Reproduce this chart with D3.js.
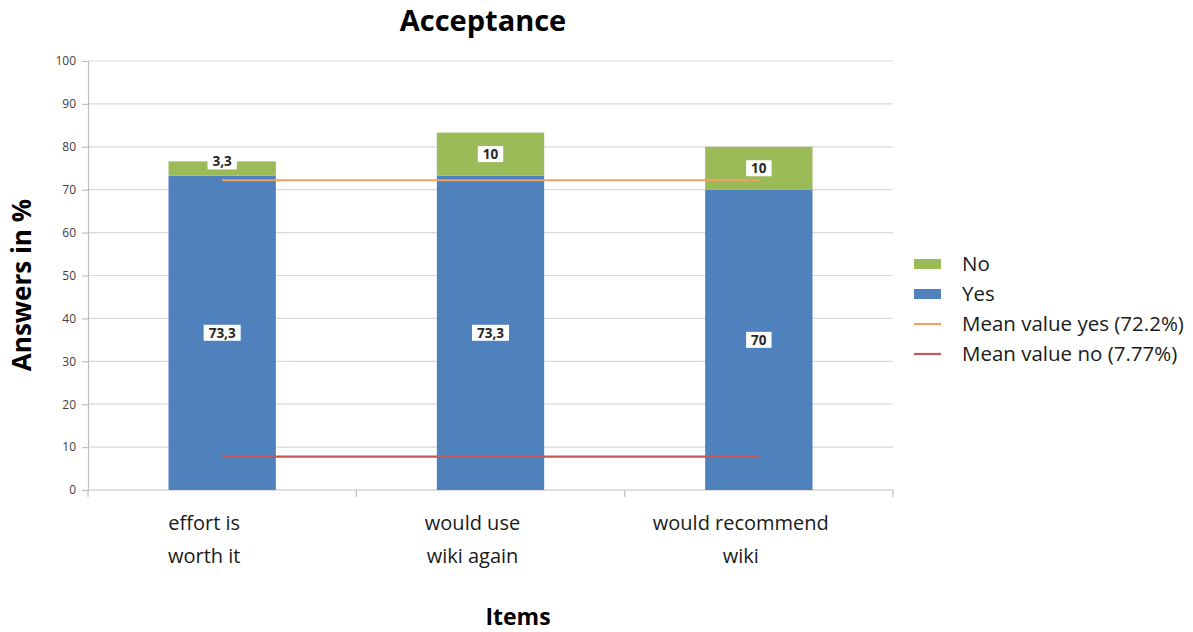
<!DOCTYPE html>
<html>
<head>
<meta charset="utf-8">
<script src="https://cdn.jsdelivr.net/npm/d3@7"></script>
<style>
  html, body { margin: 0; padding: 0; background: #fff; }
  svg { display: block; font-family: "Open Sans", "Liberation Sans", sans-serif; }
</style>
</head>
<body>
<svg id="chart" width="1193" height="632"></svg>
<script>
// ---- data ----
const categories = [["effort is", "worth it"], ["would use", "wiki again"], ["would recommend", "wiki"]];
const yesValues = [73.3, 73.3, 70];
const noValues = [3.3, 10, 10];
const meanYes = 72.2;
const meanNo = 7.77;
const yTicks = [0, 10, 20, 30, 40, 50, 60, 70, 80, 90, 100];
const legendItems = ["No", "Yes", "Mean value yes (72.2%)", "Mean value no (7.77%)"];
const titleText = "Acceptance";
const yTitle = "Answers in %";
const xTitle = "Items";

// ---- setup ----
const colors = { yes: "#4f81bd", no: "#9bbb59", meanYes: "#f2a065", meanNo: "#c0595a" };
const svg = d3.select("#chart");
const plot = { left: 88, right: 893, top: 61, bottom: 490 };
const locale = d3.formatLocale({ decimal: ",", thousands: ".", grouping: [3], currency: ["", "€"] });
const fmt = v => locale.format(",.1~f")(v);

const idx = categories.map((d, i) => i);
const x = d3.scaleBand().domain(idx).range([plot.left, plot.right]).paddingInner(0.6).paddingOuter(0.3);
const y = d3.scaleLinear().domain([0, 100]).range([plot.bottom, plot.top]);

// gridlines
svg.append("g").selectAll("line").data(yTicks.filter(t => t > 0)).join("line")
  .attr("x1", plot.left).attr("x2", plot.right)
  .attr("y1", d => y(d)).attr("y2", d => y(d))
  .attr("stroke", "#d9d9d9").attr("stroke-width", 1.2);

// y axis
const yAxis = svg.append("g").attr("transform", `translate(${plot.left},0)`)
  .call(d3.axisLeft(y).tickValues(yTicks).tickSize(6).tickPadding(6));
yAxis.select(".domain").attr("stroke", "#bfbfbf").attr("stroke-width", 1.2);
yAxis.selectAll(".tick line").attr("stroke", "#bfbfbf").attr("stroke-width", 1.2);
yAxis.selectAll(".tick text").attr("fill", "#404040").style("font-size", "12px")
  .style("font-family", "'Open Sans', sans-serif");

// x axis line + boundary ticks
const bounds = [plot.left].concat(idx.map(i => x(i) + x.bandwidth() / 2 + x.step() / 2));
svg.append("line").attr("x1", plot.left).attr("x2", plot.right)
  .attr("y1", plot.bottom).attr("y2", plot.bottom)
  .attr("stroke", "#bfbfbf").attr("stroke-width", 1.2);
svg.append("g").selectAll("line").data(bounds).join("line")
  .attr("x1", d => d).attr("x2", d => d)
  .attr("y1", plot.bottom).attr("y2", plot.bottom + 7)
  .attr("stroke", "#bfbfbf").attr("stroke-width", 1.2);

// bars
const rows = idx.map(i => ({ i, yes: yesValues[i], no: noValues[i] }));
const stack = d3.stack().keys(["yes", "no"])(rows);
svg.append("g").selectAll("g").data(stack).join("g")
  .attr("fill", d => colors[d.key])
  .selectAll("rect").data(d => d).join("rect")
  .attr("x", d => x(d.data.i))
  .attr("width", x.bandwidth())
  .attr("y", d => y(d[1]))
  .attr("height", d => y(d[0]) - y(d[1]));

// mean lines
const cx = i => x(i) + x.bandwidth() / 2;
[[meanYes, colors.meanYes], [meanNo, colors.meanNo]].forEach(([m, c]) => {
  svg.append("line")
    .attr("x1", cx(0)).attr("x2", cx(idx.length - 1))
    .attr("y1", y(m)).attr("y2", y(m))
    .attr("stroke", c).attr("stroke-width", 2.2);
});

// data labels (small segments: label lifted to sit on the segment top)
const labels = [];
stack.forEach(s => s.forEach(d => labels.push({ i: d.data.i, v: d[1] - d[0], lo: d[0], hi: d[1] })));
const lg = svg.append("g");
labels.forEach(l => {
  const segH = y(l.lo) - y(l.hi);
  const py = segH < 20 ? y(l.hi) : (y(l.lo) + y(l.hi)) / 2;
  const g = lg.append("g").attr("transform", `translate(${cx(l.i)},${py})`);
  const r = g.append("rect").attr("fill", "#fff");
  const t = g.append("text").text(fmt(l.v))
    .attr("text-anchor", "middle").attr("dy", "0.35em")
    .style("font-size", "13.5px").style("font-weight", "700").attr("fill", "#262626");
  const w = t.node().getComputedTextLength();
  r.attr("x", -w / 2 - 5).attr("width", w + 10).attr("y", -8).attr("height", 16);
});

// category labels
const xl = svg.append("g");
categories.forEach((lines, i) => {
  const t = xl.append("text").attr("text-anchor", "middle")
    .attr("x", cx(i) - 18).attr("y", 530)
    .style("font-size", "20px").attr("fill", "#1a1a1a");
  lines.forEach((ln, k) => t.append("tspan").attr("x", cx(i) - 18).attr("dy", k === 0 ? 0 : 33).text(ln));
});

// titles
svg.append("text").text(titleText).attr("x", 483).attr("y", 31)
  .attr("text-anchor", "middle").style("font-size", "29px").style("font-weight", "700").attr("fill", "#000");
svg.append("text").text(yTitle).attr("transform", "translate(31,285) rotate(-90)")
  .attr("text-anchor", "middle").style("font-size", "26px").style("font-weight", "700").attr("fill", "#000");
svg.append("text").text(xTitle).attr("x", 518).attr("y", 625)
  .attr("text-anchor", "middle").style("font-size", "23px").style("font-weight", "700").attr("fill", "#000");

// legend
const leg = svg.append("g").attr("transform", "translate(914,264)");
legendItems.forEach((name, k) => {
  const g = leg.append("g").attr("transform", `translate(0,${k * 30})`);
  if (k < 2) {
    g.append("rect").attr("x", 0).attr("y", -5).attr("width", 27).attr("height", 10)
      .attr("fill", k === 0 ? colors.no : colors.yes);
  } else {
    g.append("line").attr("x1", 0).attr("x2", 27).attr("y1", 0).attr("y2", 0)
      .attr("stroke", k === 2 ? colors.meanYes : colors.meanNo).attr("stroke-width", 2.2);
  }
  g.append("text").text(name).attr("x", 48).attr("dy", "0.35em")
    .style("font-size", "20.5px").attr("fill", "#1a1a1a");
});
</script>
</body>
</html>
